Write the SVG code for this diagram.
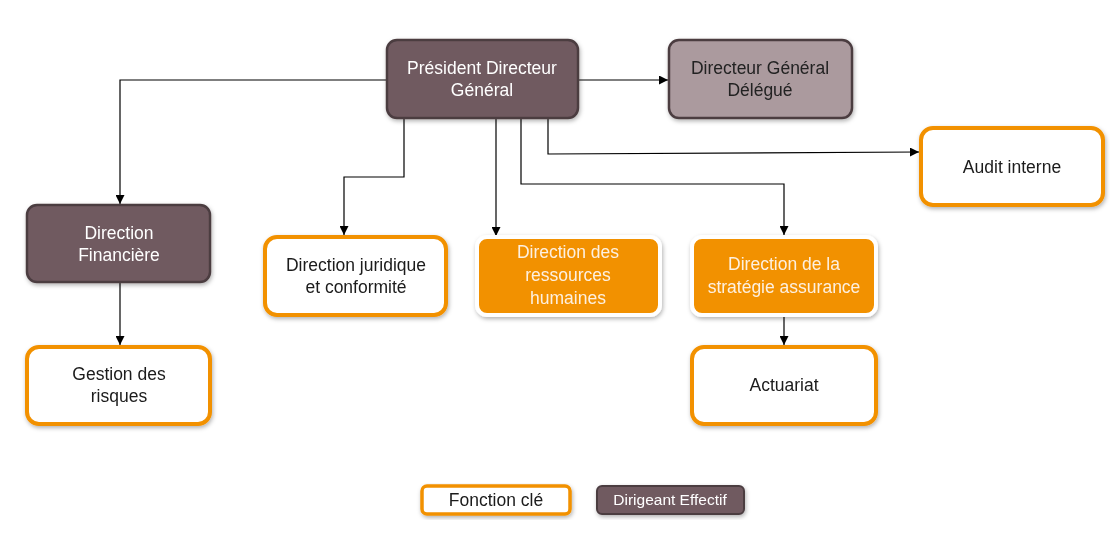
<svg xmlns="http://www.w3.org/2000/svg" width="1110" height="543" viewBox="0 0 1110 543">
<style>
text{font-family:"Liberation Sans",Arial,sans-serif;font-size:17.5px;text-anchor:middle}
.dark rect{fill:#705a60;stroke:#4b3c41;stroke-width:2.5}
.dark text{fill:#ffffff}
.light rect{fill:#ab9a9e;stroke:#4b3c41;stroke-width:2.5}
.light text{fill:#222}
.key rect{fill:#ffffff;stroke:#f29100;stroke-width:4}
.key text{fill:#1a1a1a}
.org rect{fill:#f29100;stroke:#ffffff;stroke-width:4}
.org text{fill:#fdf0e0}
.conn path{fill:none;stroke:#000;stroke-width:1.2}
</style>
<defs>
<marker id="ah" viewBox="0 0 10 10" refX="10" refY="5" markerWidth="9" markerHeight="9" markerUnits="userSpaceOnUse" orient="auto"><path d="M0,0 L10,5 L0,10 z" fill="#000"/></marker>
<filter id="sh" x="-10%" y="-10%" width="125%" height="130%"><feDropShadow dx="1" dy="2" stdDeviation="2" flood-color="#000" flood-opacity="0.3"/></filter>
</defs>
<rect width="1110" height="543" fill="#fff"/>
<g class="conn">
<path d="M387,80 H120 V204" marker-end="url(#ah)"/>
<path d="M578,80 H668" marker-end="url(#ah)"/>
<path d="M404,118 V177 H344 V235" marker-end="url(#ah)"/>
<path d="M496,118 V236" marker-end="url(#ah)"/>
<path d="M521,118 V184 H784 V235" marker-end="url(#ah)"/>
<path d="M548,118 V154 L919,152" marker-end="url(#ah)"/>
<path d="M120,283 V345" marker-end="url(#ah)"/>
<path d="M784,316 V345" marker-end="url(#ah)"/>
</g>
<g id="pdg" class="dark" filter="url(#sh)"><rect x="387" y="40" width="191" height="78" rx="10"/><text x="482" y="74">Président Directeur</text><text x="482" y="96">Général</text></g>
<g id="dgd" class="light" filter="url(#sh)"><rect x="669" y="40" width="183" height="78" rx="10"/><text x="760" y="74">Directeur Général</text><text x="760" y="96">Délégué</text></g>
<g id="audit" class="key" filter="url(#sh)"><rect x="921" y="128" width="182" height="77" rx="12"/><text x="1012" y="173">Audit interne</text></g>
<g id="dfin" class="dark" filter="url(#sh)"><rect x="27" y="205" width="183" height="77" rx="10"/><text x="119" y="239">Direction</text><text x="119" y="261">Financière</text></g>
<g id="risques" class="key" filter="url(#sh)"><rect x="27" y="347" width="183" height="77" rx="12"/><text x="119" y="380">Gestion des</text><text x="119" y="402">risques</text></g>
<g id="jur" class="key" filter="url(#sh)"><rect x="265" y="237" width="181" height="78" rx="12"/><text x="356" y="271">Direction juridique</text><text x="356" y="293">et conformité</text></g>
<g id="drh" class="org" filter="url(#sh)"><rect x="477" y="237" width="183" height="78" rx="10"/><text x="568" y="258">Direction des</text><text x="568" y="281">ressources</text><text x="568" y="304">humaines</text></g>
<g id="strat" class="org" filter="url(#sh)"><rect x="692" y="237" width="184" height="78" rx="10"/><text x="784" y="270">Direction de la</text><text x="784" y="293">stratégie assurance</text></g>
<g id="act" class="key" filter="url(#sh)"><rect x="692" y="347" width="184" height="77" rx="12"/><text x="784" y="391">Actuariat</text></g>
<g id="leg-key" class="key" filter="url(#sh)"><rect x="422" y="486" width="148" height="28" rx="5" style="stroke-width:3.5"/><text x="496" y="506">Fonction clé</text></g>
<g id="leg-dir" class="dark" filter="url(#sh)"><rect x="597" y="486" width="147" height="28" rx="5" style="stroke-width:2"/><text x="670" y="505" style="font-size:15.5px">Dirigeant Effectif</text></g>
</svg>
